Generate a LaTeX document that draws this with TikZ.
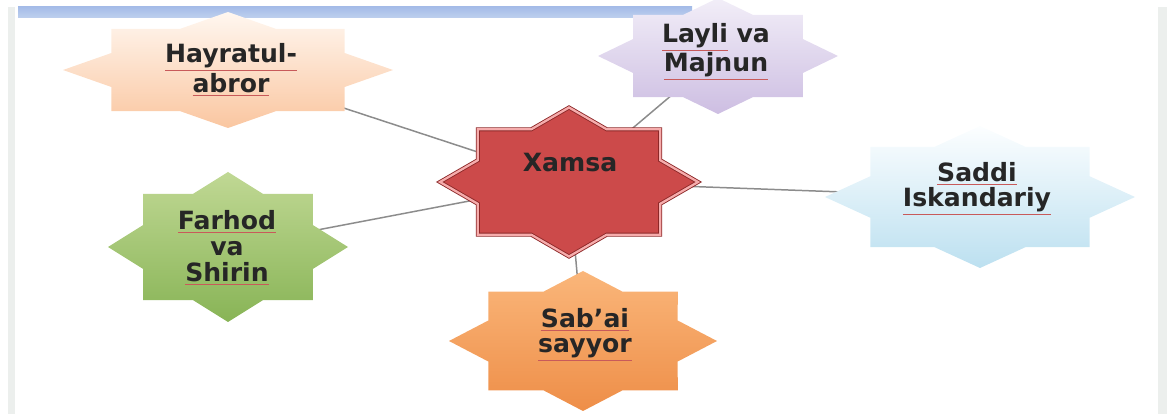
\documentclass[tikz,border=0pt]{standalone}
\usepackage{fontspec}
\setmainfont{DejaVu Sans}
\usepackage{tikz}
\usetikzlibrary{shapes.geometric, backgrounds}

\definecolor{barTop}{RGB}{165,188,232}
\definecolor{barBot}{RGB}{190,208,238}
\definecolor{edgeGray}{RGB}{236,239,237}
\definecolor{hayTop}{RGB}{255,247,240}
\definecolor{hayBot}{RGB}{250,198,160}
\definecolor{layTop}{RGB}{242,238,248}
\definecolor{layBot}{RGB}{205,190,226}
\definecolor{xamFill}{RGB}{204,74,74}
\definecolor{xamEdge}{RGB}{140,40,40}
\definecolor{xamLine}{RGB}{246,172,172}
\definecolor{sadTop}{RGB}{252,254,255}
\definecolor{sadBot}{RGB}{188,224,240}
\definecolor{farTop}{RGB}{192,216,148}
\definecolor{farBot}{RGB}{136,180,86}
\definecolor{sabTop}{RGB}{250,182,122}
\definecolor{sabBot}{RGB}{238,142,72}
\definecolor{spellred}{RGB}{200,90,90}

\tikzset{
  octo/.style={star, star points=8, star point ratio=1.307, minimum size=2cm,
    inner sep=0pt, transform shape, draw=none},
  lbl/.style={align=center, font=\bfseries\fontsize{14.3}{14.6}\selectfont, text=black!85},
  link/.style={draw=gray!90, line width=0.85pt}
}
\newcommand{\spell}[1]{{\color{spellred}\underline{\color{black!85}#1}}}

\begin{document}
\begin{tikzpicture}
    \useasboundingbox (0,0) rectangle (23.34,8.28);

    % slide edges
    \fill[edgeGray] (0.16,0) rectangle (0.30,8.14);
    \fill[edgeGray] (23.16,0) rectangle (23.34,8.14);
    \shade[top color=barTop, bottom color=barBot] (0.36,7.92) rectangle (13.84,8.14);

    % stars
    \begin{scope}[shift={(11.38,4.64)}, xscale=2.58, yscale=1.49]
      \node[octo, fill=xamFill, draw=xamEdge, line width=0.5pt, double=xamLine, double distance=1.3pt] (xamsa) {};
    \end{scope}
    \begin{scope}[shift={(4.56,6.88)}, xscale=3.30, yscale=1.16]
      \node[octo, top color=hayTop, bottom color=hayBot] (hayratul) {};
    \end{scope}
    \begin{scope}[shift={(14.36,7.16)}, xscale=2.40, yscale=1.16]
      \node[octo, top color=layTop, bottom color=layBot] (layli) {};
    \end{scope}
    \begin{scope}[shift={(19.60,4.34)}, xscale=3.10, yscale=1.42]
      \node[octo, top color=sadTop, bottom color=sadBot] (saddi) {};
    \end{scope}
    \begin{scope}[shift={(4.56,3.34)}, xscale=2.40, yscale=1.50]
      \node[octo, top color=farTop, bottom color=farBot] (farhod) {};
    \end{scope}
    \begin{scope}[shift={(11.66,1.46)}, xscale=2.68, yscale=1.40]
      \node[octo, top color=sabTop, bottom color=sabBot] (sabai) {};
    \end{scope}

    % labels
    \node[lbl] (xamsa-lbl) at (11.40,5.02) {Xamsa};
    \node[lbl] (hayratul-lbl) at (4.62,6.88) {\spell{Hayratul-}\\\spell{abror}};
    \node[lbl] (layli-lbl) at (14.32,7.24) {\spell{Layli} va\\\spell{Majnun}};
    \node[lbl] (saddi-lbl) at (19.54,4.50) {\spell{Saddi}\\\spell{Iskandariy}};
    \node[lbl] (farhod-lbl) at (4.54,3.32) {\spell{Farhod}\\va\\\spell{Shirin}};
    \node[lbl] (sabai-lbl) at (11.70,1.58) {\spell{Sab'ai}\\\spell{sayyor}};

    % connectors
    \begin{scope}[on background layer]
      \draw[link] (xamsa.center) -- (hayratul.center);
      \draw[link] (xamsa.center) -- (layli.center);
      \draw[link] (xamsa.center) -- (saddi.center);
      \draw[link] (xamsa.center) -- (farhod.center);
      \draw[link] (xamsa.center) -- (sabai.center);
    \end{scope}

\end{tikzpicture}
\end{document}
